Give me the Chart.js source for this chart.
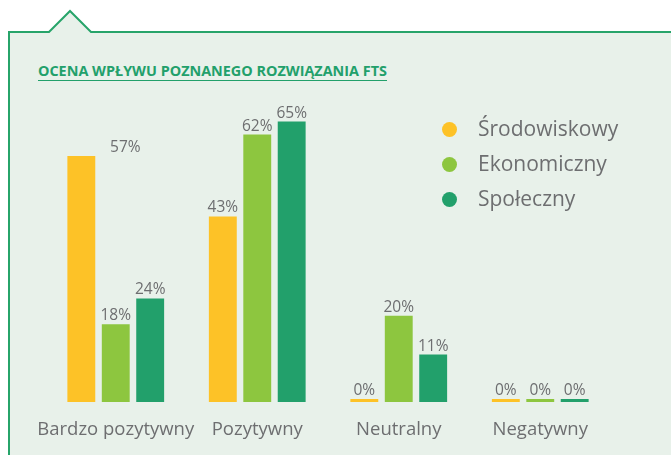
<!DOCTYPE html>
<html lang="pl">
<head>
  <meta charset="UTF-8">
  <title>Ocena wpływu poznanego rozwiązania FTS</title>
  <script src="https://cdn.jsdelivr.net/npm/chart.js"></script>
  <style>
    html, body {
      margin: 0;
      padding: 0;
      background: #fff;
      width: 671px;
      height: 455px;
      overflow: hidden;
      font-family: 'Open Sans', sans-serif;
    }
    #panel { position: absolute; left: 0; top: 0; }
    .title {
      position: absolute;
      left: 38px;
      top: 60.5px;
      font-size: 14.4px;
      font-weight: 700;
      color: #22a06b;
      border-bottom: 1.5px solid #22a06b;
      white-space: nowrap;
    }
    #legend { position: absolute; left: 0; top: 0; }
    .lg-dot {
      position: absolute;
      width: 15px;
      height: 15px;
      border-radius: 50%;
    }
    .lg-text {
      position: absolute;
      font-size: 21px;
      color: #6d6e70;
      white-space: nowrap;
    }
    #wrap { position: absolute; left: 0; top: 0; width: 671px; height: 455px; }
  </style>
</head>
<body>
  <svg id="panel" width="671" height="455">
    <path d="M9,470 L9,32 L49,32 L70,11 L91,32 L690,32 L690,470 Z" fill="#e8f1ea"/>
    <polyline points="9,470 9,32 49,32 70,11 91,32 690,32" fill="none" stroke="#27a46a" stroke-width="2"/>
  </svg>
  <div class="title">OCENA WPŁYWU POZNANEGO ROZWIĄZANIA FTS</div>
  <div id="wrap"><canvas id="chart" width="671" height="455"></canvas></div>
  <div id="legend"></div>
  <script>
    const categories = ['Bardzo pozytywny', 'Pozytywny', 'Neutralny', 'Negatywny'];
    const seriesNames = ['Środowiskowy', 'Ekonomiczny', 'Społeczny'];
    const srodowiskowy = [57, 43, 0, 0];
    const ekonomiczny = [18, 62, 20, 0];
    const spoleczny = [24, 65, 11, 0];
    const colors = ['#fdc227', '#8dc63f', '#22a06b'];

    const grey = '#6d6e70';

    // legend built from the series names and colours
    const legend = document.getElementById('legend');
    seriesNames.forEach((name, i) => {
      const base = 136 + i * 35;
      const dot = document.createElement('div');
      dot.className = 'lg-dot';
      dot.style.left = (449 - 7.5) + 'px';
      dot.style.top = (base - 7 - 7.5) + 'px';
      dot.style.background = colors[i];
      legend.appendChild(dot);
      const t = document.createElement('div');
      t.className = 'lg-text';
      t.style.left = '478px';
      t.style.top = (base - 22.4) + 'px';
      t.textContent = name;
      legend.appendChild(t);
    });

    // value labels above bars (first bar's label sits off to the right in the original)
    const valueLabels = {
      id: 'valueLabels',
      afterDatasetsDraw(chart, args, opts) {
        const ctx = chart.ctx;
        ctx.save();
        ctx.font = '15.5px "Open Sans"';
        ctx.fillStyle = grey;
        ctx.textAlign = 'center';
        ctx.textBaseline = 'alphabetic';
        chart.data.datasets.forEach((ds, di) => {
          chart.getDatasetMeta(di).data.forEach((bar, i) => {
            const dx = (opts.shift[di + '-' + i]) || 0;
            ctx.fillText(ds.data[i] + '%', bar.x + dx, bar.y - 4);
          });
        });
        ctx.restore();
      }
    };

    const datasets = [srodowiskowy, ekonomiczny, spoleczny].map((data, i) => ({
      label: seriesNames[i],
      data: data,
      backgroundColor: colors[i],
      borderWidth: 0,
      minBarLength: 3,
      categoryPercentage: 0.73,
      barPercentage: 0.81
    }));

    new Chart(document.getElementById('chart'), {
      type: 'bar',
      data: { labels: categories, datasets: datasets },
      plugins: [valueLabels],
      options: {
        responsive: false,
        animation: false,
        layout: { padding: { left: 45, right: 60, top: 100, bottom: 0 } },
        scales: {
          x: {
            grid: { display: false, drawTicks: false },
            border: { display: false },
            ticks: {
              color: grey,
              font: { family: 'Open Sans', size: 18.5 },
              padding: 17,
              maxRotation: 0,
              autoSkip: false
            },
            afterFit: s => { s.height = 53; }
          },
          y: {
            display: false,
            min: 0,
            max: 70
          }
        },
        plugins: {
          legend: { display: false },
          tooltip: { enabled: false },
          valueLabels: { shift: { '0-0': 44 } }
        }
      }
    });
  </script>
</body>
</html>
